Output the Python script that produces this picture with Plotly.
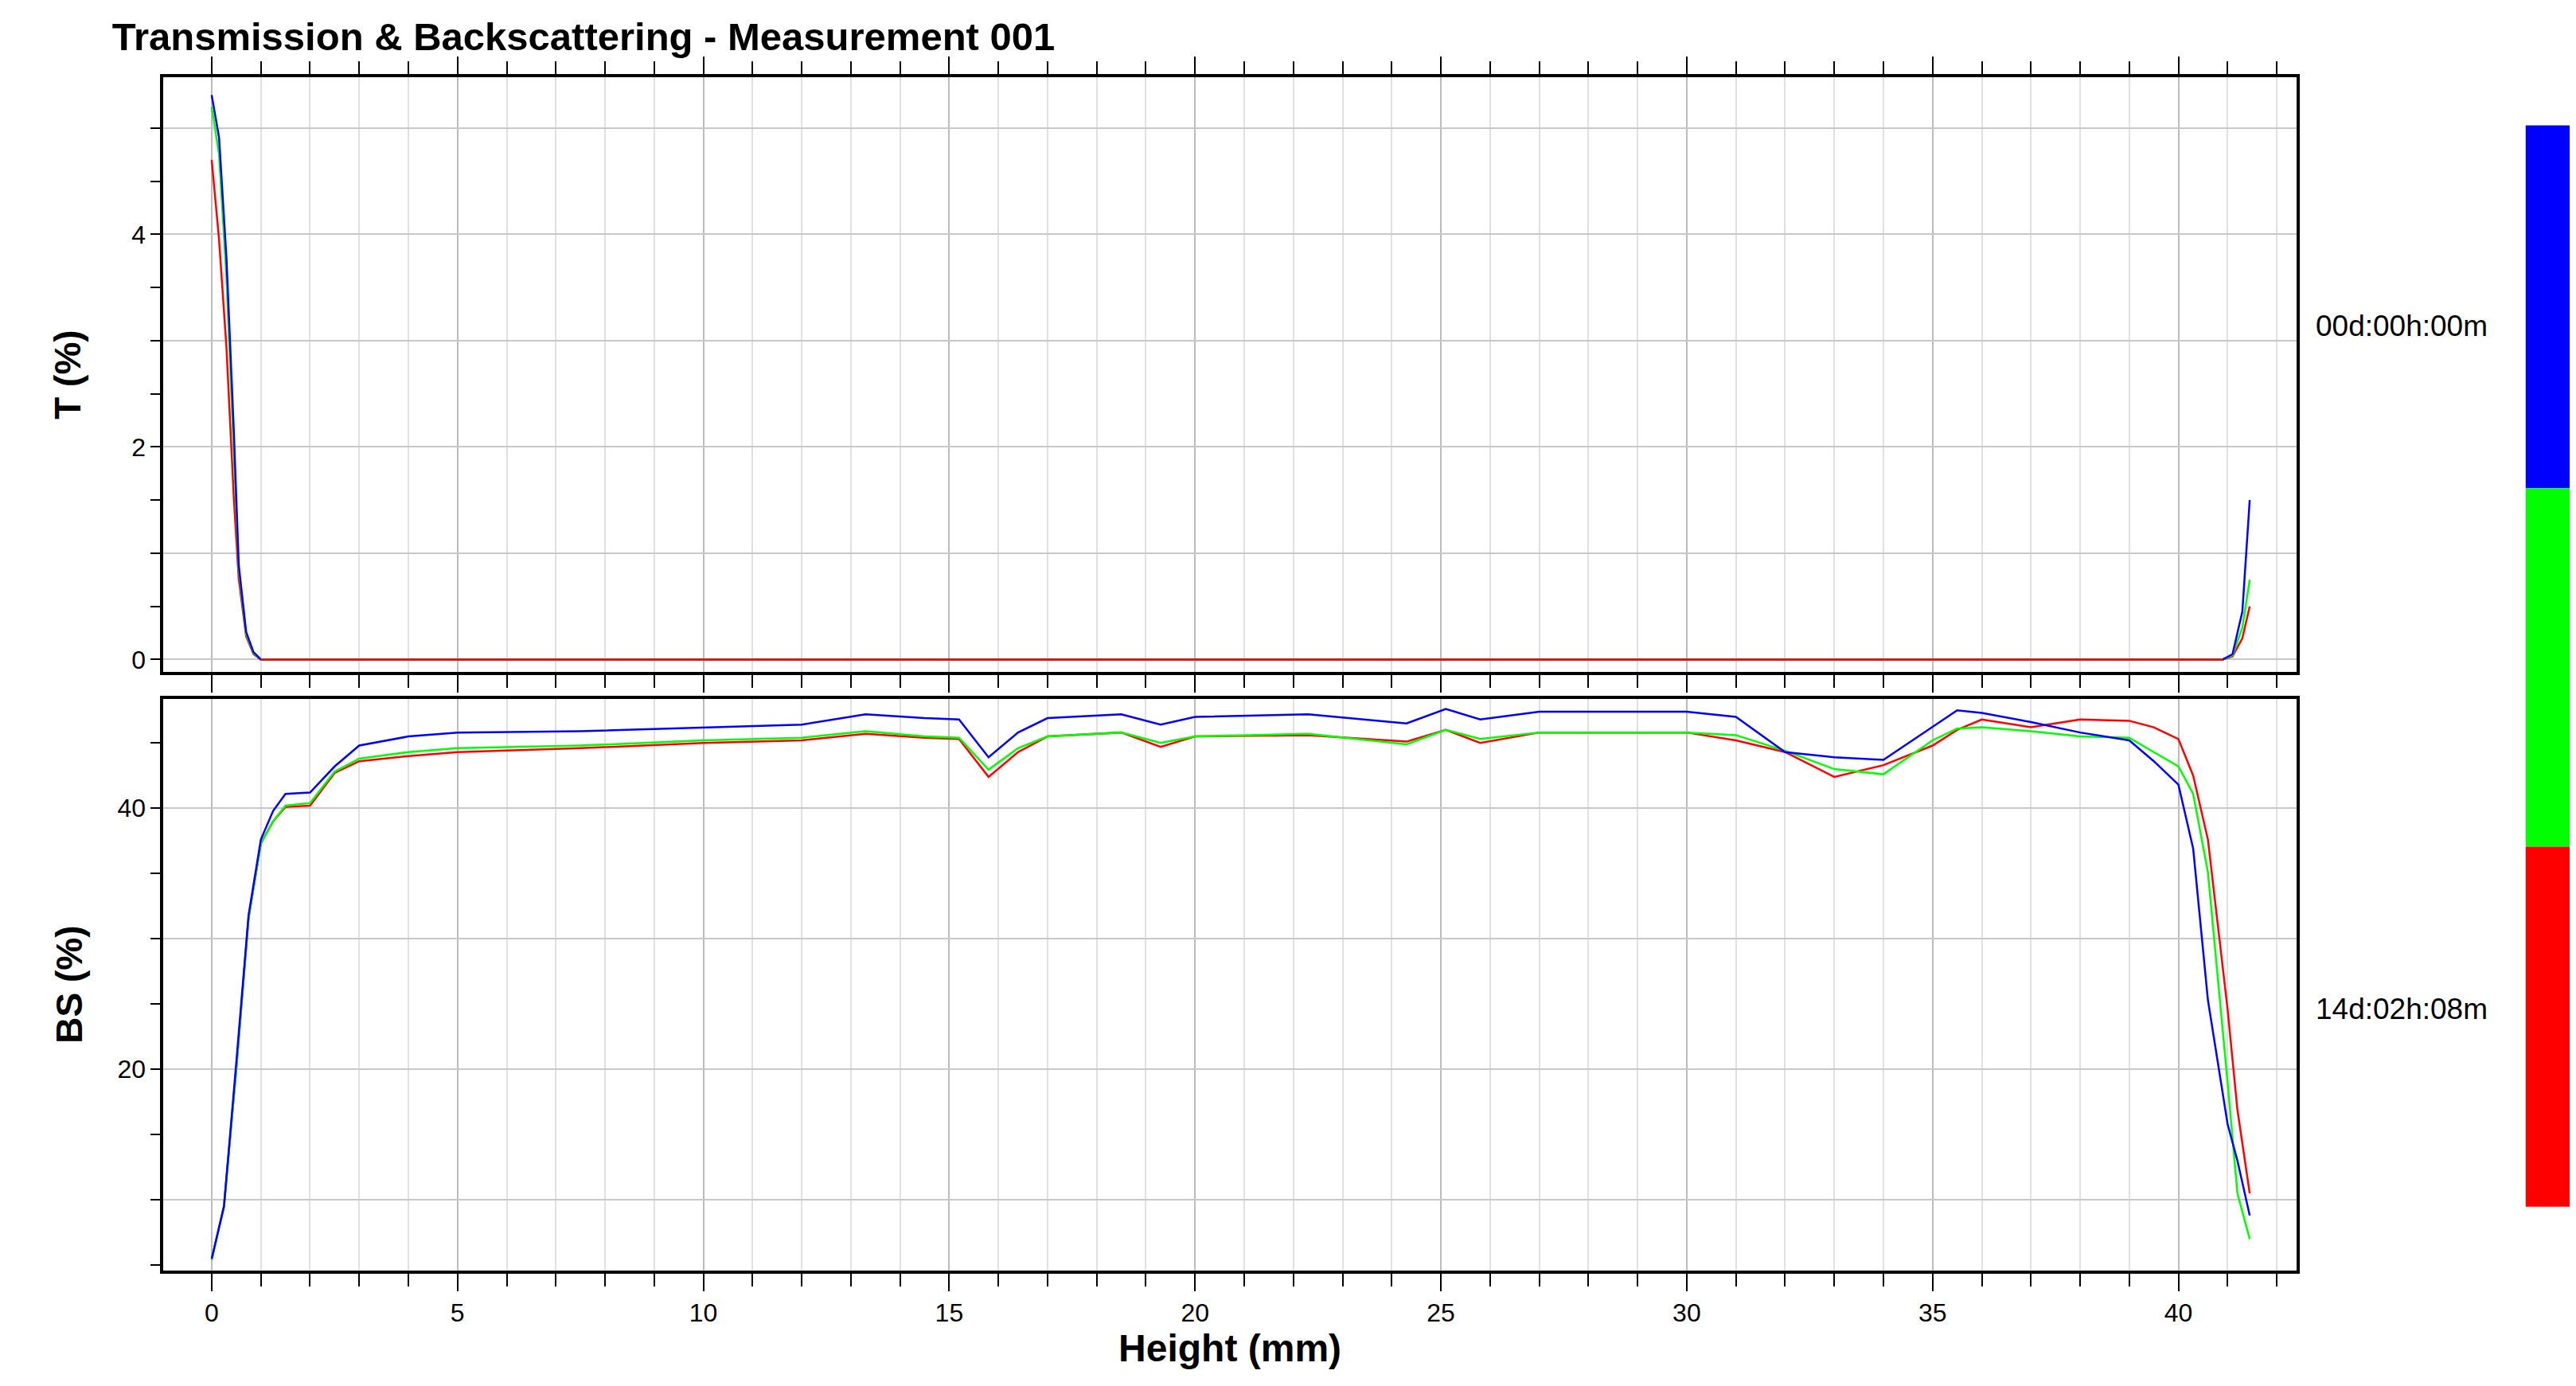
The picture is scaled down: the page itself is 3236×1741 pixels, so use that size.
import plotly.graph_objects as go
from plotly.subplots import make_subplots

# Transmission (top panel)
t_x_start = [0.0, 0.15, 0.3, 0.45, 0.55, 0.7, 0.85, 1.0]
t_blue_start = [5.31, 4.91, 3.78, 2.15, 0.89, 0.26, 0.07, 0.0]
t_green_start = [5.2, 4.75, 3.6, 2.0, 0.85, 0.24, 0.06, 0.0]
t_red_start = [4.7, 3.95, 2.94, 1.52, 0.76, 0.22, 0.05, 0.0]
t_x_end = [40.9, 41.1, 41.3, 41.45]
t_blue_end = [0.0, 0.05, 0.45, 1.5]
t_green_end = [0.0, 0.04, 0.3, 0.75]
t_red_end = [0.0, 0.03, 0.2, 0.5]

# Backscattering (bottom panel)
bs_x = [0, 0.25, 0.5, 0.75, 1.0, 1.25, 1.5, 2, 2.5, 3, 4, 5, 7.5, 10, 12, 13.3, 14.5, 15.2,
        15.8, 16.4, 17, 18.5, 19.3, 20, 22.3, 24.3, 25.1, 25.8, 27, 30, 31, 32, 33, 34,
        35, 35.5, 36, 37, 38, 39, 39.5, 40, 40.3, 40.6, 41, 41.2, 41.45]
bs_blue = [5.5, 9.5, 20.5, 31.8, 37.6, 39.8, 41.1, 41.2, 43.2, 44.8, 45.5, 45.8, 45.9, 46.2, 46.4, 47.2, 46.9, 46.8,
           43.9, 45.8, 46.9, 47.2, 46.4, 47.0, 47.2, 46.5, 47.6, 46.8, 47.4, 47.4, 47.0, 44.3, 43.9, 43.7,
           46.2, 47.5, 47.3, 46.6, 45.8, 45.2, 43.6, 41.8, 36.9, 25.3, 15.8, 13.0, 8.8]
bs_green = [5.4, 9.5, 20.0, 31.6, 37.3, 39.0, 40.2, 40.4, 42.8, 43.8, 44.3, 44.6, 44.8, 45.2, 45.4, 45.9, 45.5, 45.4,
            42.95, 44.6, 45.5, 45.8, 45.0, 45.5, 45.7, 44.9, 46.0, 45.3, 45.8, 45.8, 45.6, 44.4, 43.0, 42.6,
            45.2, 46.1, 46.2, 45.9, 45.5, 45.4, 44.3, 43.2, 41.1, 35.1, 19.0, 10.5, 7.0]
bs_red = [5.4, 9.5, 20.0, 31.6, 37.3, 39.0, 40.1, 40.2, 42.7, 43.6, 44.0, 44.3, 44.6, 45.0, 45.2, 45.7, 45.4, 45.3,
          42.4, 44.3, 45.5, 45.8, 44.7, 45.5, 45.6, 45.1, 46.0, 45.0, 45.8, 45.8, 45.2, 44.3, 42.4, 43.3,
          44.8, 46.0, 46.8, 46.2, 46.8, 46.7, 46.2, 45.3, 42.5, 37.6, 24.6, 16.9, 10.5]

time_labels = ["00d:00h:00m", "14d:02h:08m"]
bar_colors = ["#0000ff", "#00ff00", "#ff0000"]

FONT = "Liberation Sans"
fig = make_subplots(rows=2, cols=1, shared_xaxes=True)

for col, ts, te, bs in [("#ff0000", t_red_start, t_red_end, bs_red),
                        ("#00ff00", t_green_start, t_green_end, bs_green),
                        ("#0000ff", t_blue_start, t_blue_end, bs_blue)]:
    nx = [x for x in t_x_start] + [x for x in t_x_end]
    ny = ts + te
    fig.add_trace(go.Scatter(x=nx, y=ny, mode="lines", line=dict(color=col, width=2.5),
                             showlegend=False), row=1, col=1)
    fig.add_trace(go.Scatter(x=bs_x, y=bs, mode="lines", line=dict(color=col, width=2.5),
                             showlegend=False), row=2, col=1)
# flat zero line of transmission
for col in ["#0000ff", "#00ff00", "#ff0000"]:
    fig.add_trace(go.Scatter(x=[t_x_start[-1], t_x_end[0]], y=[0, 0], mode="lines",
                             line=dict(color=col, width=2.5), showlegend=False), row=1, col=1)

xcommon = dict(range=[-0.98, 42.4], dtick=5, tick0=0, showgrid=True, gridcolor="#bcbcbc", gridwidth=2,
               showline=True, linecolor="black", linewidth=4, ticks="outside", ticklen=22,
               tickwidth=2, tickcolor="black", zeroline=False,
               minor=dict(dtick=1, showgrid=True, gridcolor="#e0e0e0", gridwidth=2,
                          ticks="outside", ticklen=16, tickcolor="black", tickwidth=2),
               tickfont=dict(family=FONT, size=32, color="black"))
fig.update_xaxes(**xcommon, domain=[0.061, 0.889])
fig.update_xaxes(showticklabels=False, mirror="ticks", row=1, col=1)
fig.update_xaxes(mirror=True, row=2, col=1,
                 title=dict(text="<b>Height (mm)</b>", font=dict(family=FONT, size=48, color="black"), standoff=8))

ycommon = dict(showgrid=True, gridcolor="#c8c8c8", gridwidth=2, showline=True, linecolor="black",
               linewidth=4, mirror=True, ticks="outside", ticklen=12, tickwidth=2, tickcolor="black",
               zeroline=False, tickfont=dict(family=FONT, size=32, color="black"))
fig.update_yaxes(**ycommon, row=1, col=1, domain=[0.519, 0.949], range=[-0.12, 5.48],
                 tickvals=[0, 1, 2, 3, 4, 5], ticktext=["0", "", "2", "", "4", ""],
                 minor=dict(dtick=0.5, ticks="outside", ticklen=12, tickcolor="black", tickwidth=2),
                 title=dict(text="<b>T (%)</b>", font=dict(family=FONT, size=46, color="black"), standoff=50))
fig.update_yaxes(**ycommon, row=2, col=1, domain=[0.087, 0.500], range=[4.6, 48.4],
                 tickvals=[10, 20, 30, 40], ticktext=["", "20", "", "40"],
                 minor=dict(dtick=5, tick0=0, ticks="outside", ticklen=12, tickcolor="black", tickwidth=2),
                 title=dict(text="<b>BS (%)</b>", font=dict(family=FONT, size=46, color="black"), standoff=30))

# time colour bar
bar_edges = [0.914, 0.652, 0.393, 0.133]
for i, c in enumerate(bar_colors):
    fig.add_shape(type="rect", xref="paper", yref="paper", x0=0.978, x1=0.998,
                  y0=bar_edges[i + 1], y1=bar_edges[i], fillcolor=c, line_width=0)
for lab, yy in zip(time_labels, [0.782, 0.263]):
    fig.add_annotation(text=lab, xref="paper", yref="paper", x=0.896, y=yy, xanchor="left",
                       showarrow=False, font=dict(family=FONT, size=37, color="black"))

fig.update_layout(
    width=3236, height=1741, plot_bgcolor="white", paper_bgcolor="white",
    margin=dict(l=0, r=0, t=0, b=0),
    title=dict(text="<b>Transmission & Backscattering - Measurement 001</b>", x=0.041, xanchor="left",
               y=0.978, yanchor="middle", font=dict(family=FONT, size=49, color="black")),
)

fig.write_html("out.html")
